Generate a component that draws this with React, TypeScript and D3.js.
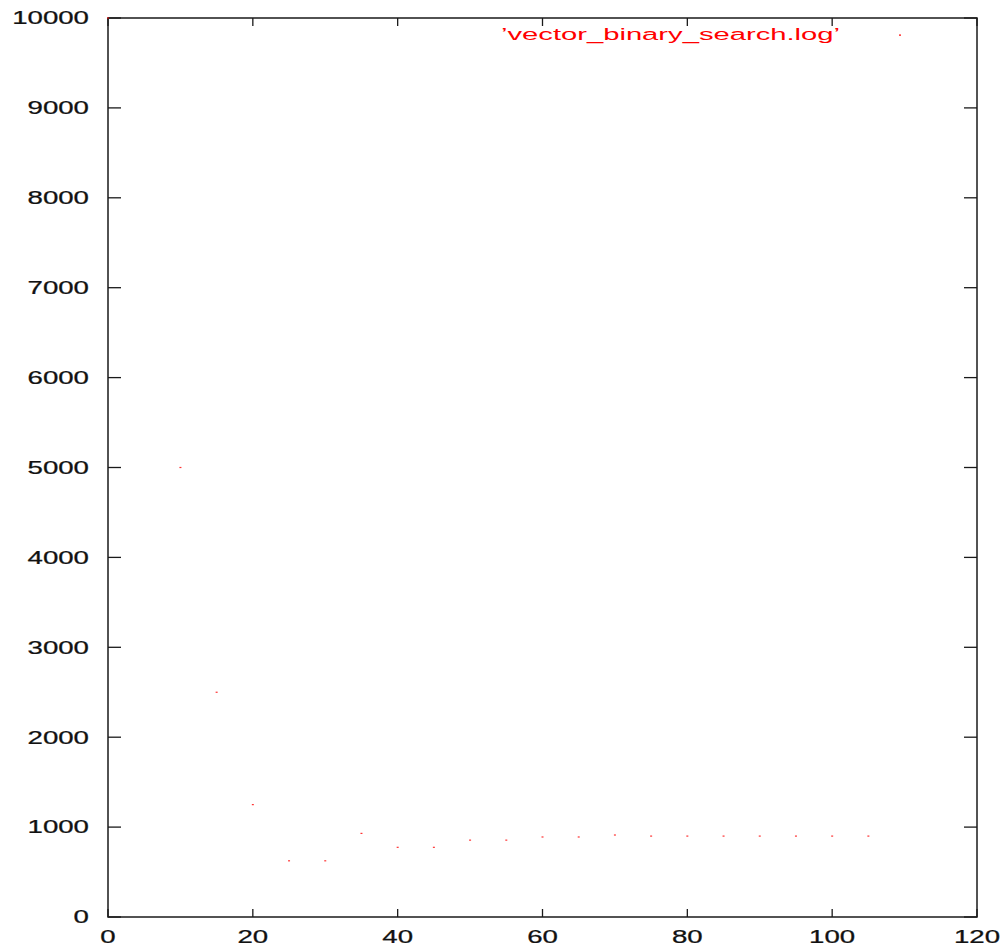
import * as d3 from "d3";
import { useEffect, useRef } from "react";

// gnuplot log: problem size vs. time
const sizes = [0, 10, 15, 20, 25, 30, 35, 40, 45, 50, 55, 60, 65, 70, 75, 80, 85, 90, 95, 100, 105];
const times = [10000, 5000, 2500, 1250, 625, 625, 930, 775, 775, 855, 855, 890, 890, 912, 900, 900, 900, 900, 900, 900, 900];
const xTicks = [0, 20, 40, 60, 80, 100, 120];
const yTicks = [0, 1000, 2000, 3000, 4000, 5000, 6000, 7000, 8000, 9000, 10000];
const seriesLabel = "\u2019vector_binary_search.log\u2019";

const W = 1005;
const H = 947;
const box = { left: 108, right: 977, top: 18, bottom: 917 };

const App = () => {
    const svgRef = useRef<SVGSVGElement>(null);

    useEffect(() => {
        const svg = d3.select(svgRef.current);
        svg.selectAll("*").remove();

        const x = d3.scaleLinear().domain([0, 120]).range([box.left, box.right]);
        const y = d3.scaleLinear().domain([0, 10000]).range([box.bottom, box.top]);

        const ink = "#1a1a1a";
        const font = "'Liberation Sans', Arial, sans-serif";

        // ticks (inside, mirrored like gnuplot)
        const g = svg.append("g").attr("stroke", ink).attr("stroke-width", 1.3);
        yTicks.forEach(t => {
            g.append("line").attr("x1", box.left).attr("x2", box.left + 13).attr("y1", y(t)).attr("y2", y(t));
            g.append("line").attr("x1", box.right).attr("x2", box.right - 13).attr("y1", y(t)).attr("y2", y(t));
        });
        xTicks.forEach(t => {
            g.append("line").attr("x1", x(t)).attr("x2", x(t)).attr("y1", box.bottom).attr("y2", box.bottom - 8);
            g.append("line").attr("x1", x(t)).attr("x2", x(t)).attr("y1", box.top).attr("y2", box.top + 8);
        });

        // border
        svg.append("rect")
            .attr("x", box.left).attr("y", box.top)
            .attr("width", box.right - box.left).attr("height", box.bottom - box.top)
            .attr("fill", "none").attr("stroke", ink).attr("stroke-width", 1.5);

        // y labels
        svg.append("g").selectAll("text").data(yTicks).join("text")
            .attr("transform", d => `translate(89,${y(d) + 6.3}) scale(1.58,1)`)
            .attr("text-anchor", "end")
            .attr("font-family", font)
            .attr("font-size", 17.5)
            .attr("fill", "#111")
            .attr("stroke", "#111")
            .attr("stroke-width", 0.25)
            .text(d => d);

        // x labels
        svg.append("g").selectAll("text").data(xTicks).join("text")
            .attr("transform", d => `translate(${x(d)},943) scale(1.58,1)`)
            .attr("text-anchor", "middle")
            .attr("font-family", font)
            .attr("font-size", 17.5)
            .attr("fill", "#111")
            .attr("stroke", "#111")
            .attr("stroke-width", 0.25)
            .text(d => d);

        // key
        svg.append("text")
            .attr("x", 501).attr("y", 40)
            .attr("font-family", font)
            .attr("font-size", 16)
            .attr("textLength", 339)
            .attr("lengthAdjust", "spacingAndGlyphs")
            .attr("fill", "#ff0000")
            .text(seriesLabel);
        svg.append("rect").attr("x", 899).attr("y", 34.5).attr("width", 2).attr("height", 1.2).attr("fill", "#ff0000");

        // points
        const pts = d3.zip(sizes, times);
        svg.append("g").selectAll("rect").data(pts).join("rect")
            .attr("x", d => x(d[0]) - 1)
            .attr("y", d => y(d[1]) - 0.6)
            .attr("width", 2)
            .attr("height", 1.2)
            .attr("fill", "#ff0000")
            .attr("fill-opacity", 0.8);
    }, []);

    return (
        <div style={{ position: "absolute", left: 0, top: 0 }}>
            <svg ref={svgRef} width={W} height={H} style={{ display: "block", background: "#fff" }} />
        </div>
    );
};

export default App;
